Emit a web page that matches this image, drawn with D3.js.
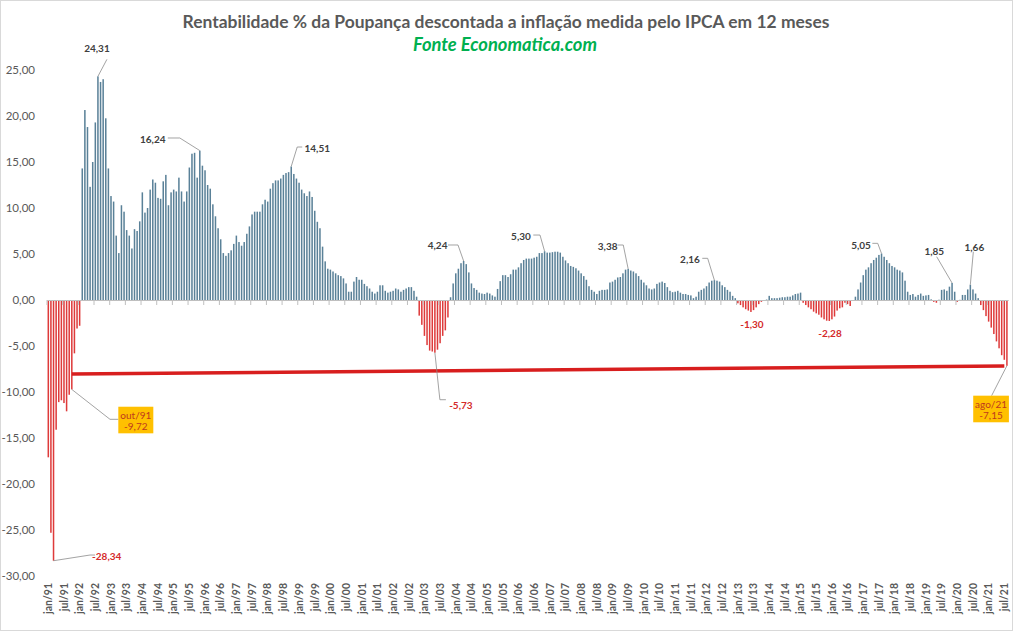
<!DOCTYPE html>
<html><head><meta charset="utf-8">
<script src="https://cdn.jsdelivr.net/npm/d3@7"></script>
<style>
html,body{margin:0;padding:0;background:#fff;}
svg{display:block;font-family:Lato,'Open Sans','DejaVu Sans',sans-serif;}
</style>
</head><body>
<svg id="chart" width="1013" height="631"></svg>
<script>
// ---------------- DATA ----------------
const monthNames = ['jan','fev','mar','abr','mai','jun','jul','ago','set','out','nov','dez'];
const firstYear = 1991;

// Real return (%) of Poupança deflated by 12-month IPCA, jan/91 .. ago/21
const values = [
  -17.1, -25.3, -28.34, -14.1, -11.1, -10.9, -11.2, -12.1, -10.3, -9.72, -5.8, -3.1,   // 1991
  -2.8, 14.3, 20.65, 18.8, 12.3, 15.0, 19.3, 24.31, 23.7, 24.0, 19.75, 14.3,          // 1992
  11.3, 10.7, 7.0, 5.1, 10.3, 9.6, 7.6, 7.0, 5.6, 7.7, 7.5, 8.55,                     // 1993
  11.7, 9.5, 10.0, 12.0, 13.1, 12.75, 11.1, 11.0, 12.9, 13.6, 10.3, 11.7,             // 1994
  12.0, 11.8, 13.3, 11.8, 10.7, 11.8, 14.4, 15.9, 16.0, 13.3, 16.24, 14.6,            // 1995
  14.1, 12.5, 12.1, 10.4, 9.1, 7.8, 6.6, 5.1, 4.8, 5.1, 5.4, 6.1,                     // 1996
  7.0, 6.3, 5.9, 6.3, 7.2, 8.0, 9.3, 9.6, 9.6, 9.6, 10.4, 10.9,                       // 1997
  10.7, 12.1, 12.7, 13.0, 13.0, 13.2, 13.6, 13.8, 13.9, 14.51, 13.7, 13.2,            // 1998
  12.75, 12.0, 11.6, 11.3, 11.8, 11.2, 9.7, 8.5, 7.8, 5.8, 4.2, 3.4,                  // 1999
  3.3, 3.1, 2.9, 2.7, 2.6, 2.35, 1.8, 0.9, 0.9, 2.0, 2.5, 2.2,                        // 2000
  2.2, 1.75, 1.5, 1.25, 0.9, 0.7, 0.9, 1.6, 1.6, 1.0, 0.8, 0.9,                       // 2001
  1.0, 1.25, 1.15, 0.9, 1.1, 1.25, 1.4, 1.4, 1.0, 0.36, -1.7, -2.7,                   // 2002
  -3.9, -4.9, -5.5, -5.6, -5.73, -5.4, -4.7, -3.9, -3.3, -1.9, 0.3, 1.8,              // 2003
  2.9, 3.4, 4.0, 4.24, 3.9, 3.0, 1.8, 1.3, 1.1, 0.8, 0.7, 0.65,                       // 2004
  0.8, 0.7, 0.5, 0.36, 1.2, 2.05, 2.7, 2.7, 2.5, 2.8, 3.3, 3.3,                       // 2005
  3.55, 4.0, 4.35, 4.5, 4.5, 4.5, 4.6, 4.7, 5.1, 5.1, 5.30, 5.15,                     // 2006
  5.15, 5.2, 5.25, 5.25, 5.15, 4.7, 4.3, 4.0, 3.7, 3.6, 3.45, 3.2,                    // 2007
  2.9, 2.6, 2.2, 1.5, 1.1, 0.9, 0.65, 1.0, 1.1, 1.1, 1.15, 1.9,                       // 2008
  2.0, 2.2, 2.45, 2.5, 2.9, 3.3, 3.38, 3.2, 3.1, 2.9, 2.6, 2.2,                       // 2009
  1.9, 1.6, 1.25, 1.15, 1.25, 1.75, 1.9, 2.0, 1.85, 1.4, 1.0, 0.85,                   // 2010
  0.9, 1.0, 0.8, 0.65, 0.65, 0.55, 0.5, 0.2, 0.36, 0.9, 1.1, 1.25,                    // 2011
  1.5, 1.9, 2.1, 2.16, 2.1, 2.0, 1.6, 1.4, 1.1, 0.9, 0.45, 0.2,                       // 2012
  -0.36, -0.55, -0.8, -1.0, -1.15, -1.30, -1.1, -0.8, -0.45, -0.2, -0.1, 0.05,        // 2013
  0.45, 0.2, 0.2, 0.2, 0.25, 0.3, 0.3, 0.36, 0.36, 0.5, 0.65, 0.7,                    // 2014
  0.8, -0.3, -0.55, -0.8, -1.0, -1.27, -1.45, -1.6, -1.9, -2.1, -2.25, -2.28,         // 2015
  -2.1, -1.8, -1.15, -0.9, -0.8, -0.3, -0.45, -0.65, -0.1, 0.36, 1.15, 1.9,           // 2016
  2.7, 3.3, 3.55, 4.0, 4.35, 4.6, 4.9, 5.05, 4.7, 4.35, 4.0, 3.7,                     // 2017
  3.55, 3.3, 3.2, 3.0, 2.1, 0.9, 0.55, 0.65, 0.36, 0.55, 0.7, 0.45,                   // 2018
  0.5, 0.55, 0.07, -0.2, -0.3, 0.03, 1.1, 1.15, 1.0, 1.45, 1.85, 0.9,                 // 2019
  -0.2, 0.02, 0.55, 0.55, 1.15, 1.66, 1.15, 0.7, 0.2, -0.55, -1.1, -1.75,             // 2020
  -2.35, -3.0, -3.7, -4.5, -5.25, -6.0, -6.5, -7.15                                   // 2021
];

const categories = values.map((v, i) =>
  monthNames[i % 12] + '/' + String((firstYear + Math.floor(i / 12)) % 100).padStart(2, '0'));

const yTickValues = [-30, -25, -20, -15, -10, -5, 0, 5, 10, 15, 20, 25];
const xLabelIndices = categories.map((c, i) => i).filter(i => i % 6 === 0);

// labelled bars
const positiveLabelIdx = [19, 58, 93, 159, 190, 222, 255, 319, 346, 353];
const negativeLabelIdx = [2, 148, 269, 299];
const boxedLabelIdx = [9, 367];

// trend line (start month index/value, end month index/value)
const trendIdx = [9, 366];
const trendVal = [-8.04, -7.17];

const titleText = 'Rentabilidade % da Poupança descontada a inflação medida pelo IPCA em 12 meses';
const subtitleText = 'Fonte Economatica.com';

// ---------------- DRAW ----------------
const W = 1013, H = 631;
const svg = d3.select('#chart');
const ptBR = d3.formatLocale({decimal: ',', thousands: '.', grouping: [3], currency: ['R$ ', ''], minus: '-'});
const fmt = ptBR.format('.2f');

const x = d3.scaleBand().domain(d3.range(values.length))
  .range([47, 47 + values.length * 2.612]).paddingInner(0.42).paddingOuter(0.21);
const y = d3.scaleLinear().domain([-30, 25]).range([576, 70]);
const bw = x.bandwidth();
const cx = i => x(i) + bw / 2;

// frame
svg.append('rect').attr('x', 0.5).attr('y', 0.5).attr('width', W - 1).attr('height', H - 1)
  .attr('fill', '#fff').attr('stroke', '#d9d9d9');

// title
function fitText(sel, target) {
  const len = sel.node().getComputedTextLength();
  const fs = parseFloat(sel.attr('font-size'));
  sel.attr('font-size', (fs * target / len).toFixed(2));
}
const t1 = svg.append('text').attr('x', 506).attr('y', 28).attr('text-anchor', 'middle')
  .attr('font-size', 17).attr('font-weight', 'bold').attr('fill', '#595959').text(titleText);
fitText(t1, 648);
const t2 = svg.append('text').attr('x', 505).attr('y', 51).attr('text-anchor', 'middle')
  .attr('font-size', 17).attr('font-weight', 'bold').attr('font-style', 'italic')
  .attr('fill', '#00b050').text(subtitleText);
fitText(t2, 184);

// y axis (labels only)
const yAxis = svg.append('g').attr('transform', 'translate(41,0)')
  .call(d3.axisLeft(y).tickValues(yTickValues).tickSize(0).tickPadding(6).tickFormat(fmt));
yAxis.select('.domain').remove();
yAxis.selectAll('text').attr('font-size', 11.5).attr('fill', '#595959')
  .attr('font-family', 'Lato, sans-serif');

// bars
svg.append('g').selectAll('rect').data(values).join('rect')
  .attr('x', (d, i) => x(i))
  .attr('width', bw)
  .attr('y', d => y(Math.max(0, d)))
  .attr('height', d => Math.abs(y(d) - y(0)))
  .attr('fill', d => d >= 0 ? '#5a8198' : '#de3b3b');

// x axis line with ticks at zero
const xAxisZero = svg.append('g').attr('transform', `translate(0,${y(0)})`)
  .call(d3.axisBottom(x).tickValues(xLabelIndices).tickFormat('').tickSize(5).tickSizeOuter(0));
xAxisZero.select('.domain').attr('stroke', '#bfbfbf');
xAxisZero.selectAll('.tick line').attr('stroke', '#bfbfbf').attr('transform', `translate(${-x.step() / 2},0)`);

// x labels at the bottom
const xAxisLow = svg.append('g').attr('transform', 'translate(0,578)')
  .call(d3.axisBottom(x).tickValues(xLabelIndices).tickFormat(i => categories[i]).tickSize(0));
xAxisLow.select('.domain').remove();
xAxisLow.selectAll('text')
  .attr('transform', 'rotate(-90)').attr('text-anchor', 'end')
  .attr('x', -5).attr('y', 0).attr('dy', '0.36em')
  .attr('font-size', 10.5).attr('font-weight', 'bold').attr('fill', '#595959')
  .attr('font-family', 'Lato, sans-serif');

// trend line
svg.append('line')
  .attr('x1', cx(trendIdx[0])).attr('y1', y(trendVal[0]))
  .attr('x2', cx(trendIdx[1])).attr('y2', y(trendVal[1]))
  .attr('stroke', '#d81e1e').attr('stroke-width', 3.5).attr('stroke-linecap', 'butt');

// annotation layouts (offsets from the end of the bar)
const layout = {
  19:  {tx: -1,    ty: -27.5, lead: [[9, -17], [0, 0]]},
  58:  {tx: -47,   ty: -11,   lead: [[-32, -12.6], [-20, -12.6], [0, 0]]},
  93:  {tx: 26,    ty: -18.5, lead: [[11, -19.5], [6, -19.5], [0, 0]]},
  159: {tx: -26,   ty: -15.3, lead: [[-15.6, -16], [-5.6, -16], [0, 0]]},
  190: {tx: -23.6, ty: -14.5, lead: [[-11.3, -16.2], [-4.6, -16.2], [0, 0]]},
  222: {tx: -20.5, ty: -22.9, lead: [[-10.5, -23.9], [-4.9, -23.9], [0, 0]]},
  255: {tx: -24.4, ty: -20.8, lead: [[-12.1, -21.8], [-6.7, -21.8], [0, 0]]},
  319: {tx: -20.5, ty: -8.5,  lead: [[-9.2, -10.2], [-3.8, -10.2], [0, 0]]},
  346: {tx: -17.8, ty: -31.3, lead: [[-15.4, -26.3], [0, 0]]},
  353: {tx: 4,     ty: -37.4, lead: [[3, -33], [0, 0]]},
  2:   {tx: 53.2,  ty: -4,    lead: [[0, 0], [36.5, -5.7], [41.5, -5.7]]},
  148: {tx: 26,    ty: 52.3,  lead: [[0, 0], [5, 47], [11, 47]]},
  269: {tx: 1,     ty: 12.3,  lead: null},
  299: {tx: 0.7,   ty: 12.3,  lead: null},
  9:   {bx: 46.5,  by: 17.3,  w: 35,   h: 26.6, lead: [[0, 0], [38.2, 29.9], [46.5, 29.9]]},
  367: {bx: -33.7, by: 29.9,  w: 35.7, h: 26.6, lead: [[0, 0], [-15.3, 29.9]]}
};

const ann = svg.append('g');
const leadLine = d3.line();
function drawLead(i, lead) {
  if (!lead) return;
  const px = cx(i), py = y(values[i]);
  ann.append('path').attr('d', leadLine(lead.map(p => [px + p[0], py + p[1]])))
    .attr('fill', 'none').attr('stroke', '#8c8c8c').attr('stroke-width', 0.8);
}
positiveLabelIdx.concat(negativeLabelIdx).forEach(i => {
  const L = layout[i];
  drawLead(i, L.lead);
  ann.append('text').attr('x', cx(i) + L.tx).attr('y', y(values[i]) + L.ty).attr('dy', '0.35em')
    .attr('text-anchor', 'middle').attr('font-size', 10).attr('font-weight', 'bold')
    .attr('fill', values[i] >= 0 ? '#404040' : '#d42a2a').text(fmt(values[i]));
});
boxedLabelIdx.forEach(i => {
  const L = layout[i];
  drawLead(i, L.lead);
  const bx = cx(i) + L.bx, by = y(values[i]) + L.by;
  ann.append('rect').attr('x', bx).attr('y', by).attr('width', L.w).attr('height', L.h).attr('fill', '#ffc000');
  ann.append('text').attr('x', bx + L.w / 2).attr('y', by + 8.5).attr('dy', '0.35em')
    .attr('text-anchor', 'middle').attr('font-size', 10).attr('fill', '#c0391e').text(categories[i]);
  ann.append('text').attr('x', bx + L.w / 2).attr('y', by + 19.5).attr('dy', '0.35em')
    .attr('text-anchor', 'middle').attr('font-size', 10).attr('fill', '#c0391e').text(fmt(values[i]));
});
</script>
</body></html>
